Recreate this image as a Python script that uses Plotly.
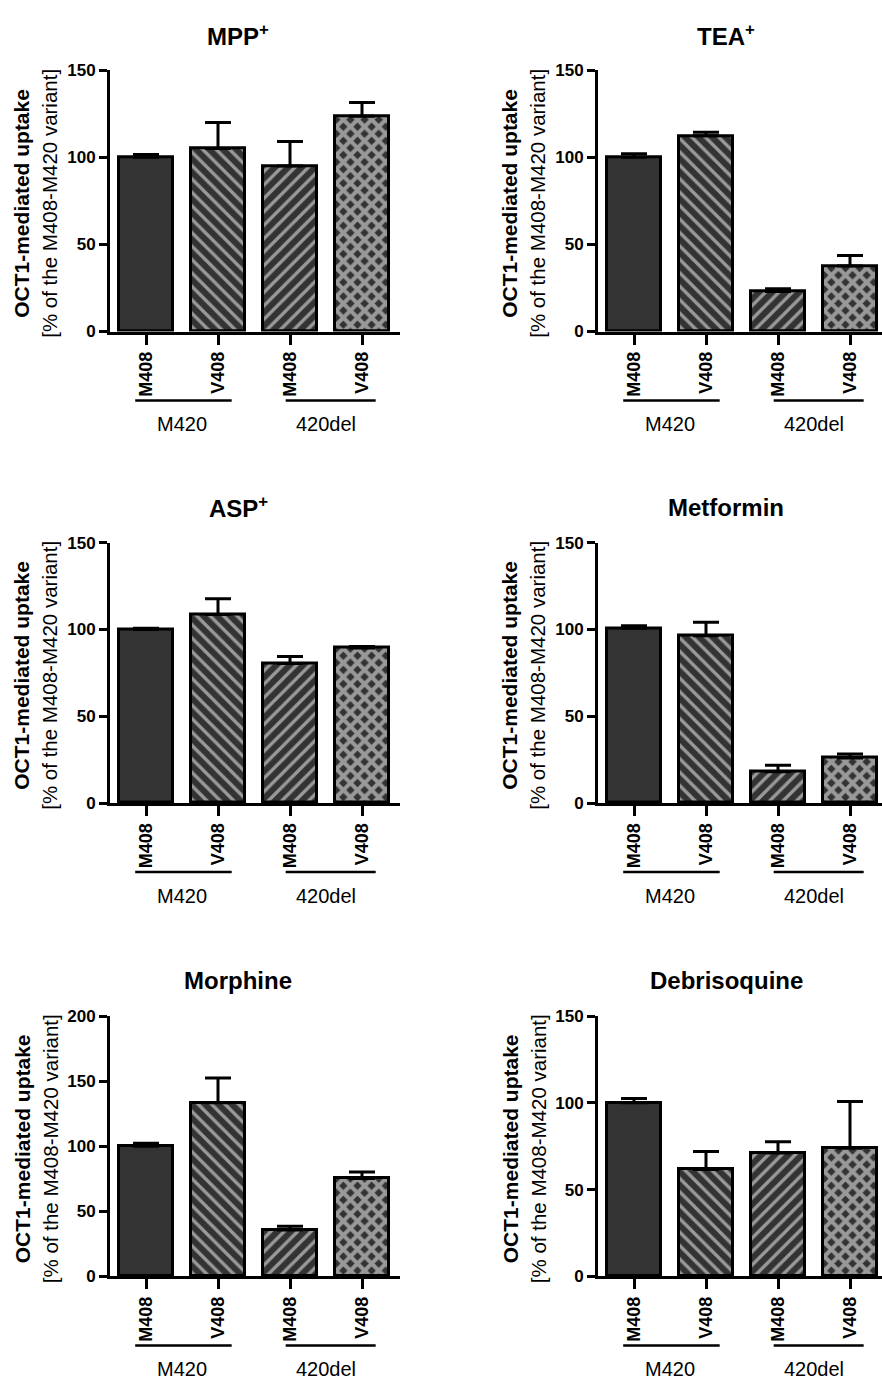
import plotly.graph_objects as go

W, H = 882, 1391

# ---------------- data ----------------
variants = ["M408", "V408", "M408", "V408"]
groups = ["M420", "420del"]
compounds = ["MPP<sup>+</sup>", "TEA<sup>+</sup>", "ASP<sup>+</sup>",
             "Metformin", "Morphine", "Debrisoquine"]

mpp_mean = [100, 105, 95, 123.5]
mpp_err = [1.6, 15, 14, 8]
tea_mean = [100, 112.3, 23, 37.6]
tea_err = [2, 2, 1.5, 6]
asp_mean = [100, 108.6, 80.4, 89.3]
asp_err = [0.6, 9, 4, 0.8]
met_mean = [100.6, 96.3, 18, 25.9]
met_err = [1.5, 7.8, 3.8, 2.3]
mor_mean = [100, 133.4, 35.6, 75.2]
mor_err = [2.3, 19, 3, 5]
deb_mean = [100, 61.6, 71.1, 73.8]
deb_err = [2.5, 10.4, 6.5, 27]

y_max = [150, 150, 150, 150, 200, 150]
y_ticks = [[0, 50, 100, 150]] * 4 + [[0, 50, 100, 150, 200]] + [[0, 50, 100, 150]]

means = [mpp_mean, tea_mean, asp_mean, met_mean, mor_mean, deb_mean]
errs = [mpp_err, tea_err, asp_err, met_err, mor_err, deb_err]

patterns = ["", "\\", "/", "x"]
pattern_size = [8, 9.5, 9.5, 10]
pattern_solidity = [0.3, 0.35, 0.35, 0.65]
# group spans (category index start, end)
group_spans = [(0, 1), (2, 3)]

# ---------------- layout geometry (pixels) ----------------
col_axis_px = [110, 598]
col_right_px = [400, 882]
row_top_px = [62, 541, 1021]
row_bot_px = [327, 805, 1285]
px_per_cat = 72.0

FONT = "Liberation Sans, Arial, sans-serif"

fig = go.Figure()
annotations = []
shapes = []

for i in range(6):
    r, c = divmod(i, 2)
    n = "" if i == 0 else str(i + 1)
    xa, ya = "x" + n, "y" + n
    x = list(range(len(variants)))
    for k in range(4):
        fig.add_trace(go.Bar(
            x=[x[k]], y=[means[i][k]], xaxis=xa, yaxis=ya,
            width=0.76,
            marker=dict(
                color="#333333",
                line=dict(color="black", width=3),
                pattern=dict(shape=patterns[k], fgcolor="white", bgcolor="#333333",
                             size=pattern_size[k], solidity=pattern_solidity[k]),
            ),
            error_y=dict(type="data", symmetric=False, array=[errs[i][k]],
                         arrayminus=[0], color="black", thickness=3, width=13),
            showlegend=False, hoverinfo="skip",
        ))

    left = col_axis_px[c]
    right = col_right_px[c]
    xr1 = -0.5 + (right - left) / px_per_cat
    dom_x = [left / W, right / W]
    dom_y = [1 - row_bot_px[r] / H, 1 - row_top_px[r] / H]

    fig.layout["xaxis" + n] = dict(
        domain=dom_x, range=[-0.5, xr1], anchor=ya,
        showline=True, linecolor="black", linewidth=3,
        ticks="outside", ticklen=10, tickwidth=3, tickcolor="black",
        tickvals=x, ticktext=variants, tickangle=-90,
        tickfont=dict(family=FONT, size=18, color="black", weight="bold"),
        showgrid=False, zeroline=False, fixedrange=True,
    )
    fig.layout["yaxis" + n] = dict(
        domain=dom_y, range=[0, y_max[i]], anchor=xa,
        showline=True, linecolor="black", linewidth=3,
        ticks="outside", ticklen=8, tickwidth=3, tickcolor="black",
        tickvals=y_ticks[i],
        tickfont=dict(family=FONT, size=17, color="black", weight="bold"),
        showgrid=False, zeroline=False, fixedrange=True,
    )

    top, bot = row_top_px[r], row_bot_px[r]
    mid = (top + bot) / 2 + 3
    # title
    annotations.append(dict(
        text="<b>%s</b>" % compounds[i], xref="paper", yref="paper",
        x=(left + 128) / W, y=1 - (top - 36) / H, xanchor="center", yanchor="middle",
        showarrow=False, font=dict(family=FONT, size=24, color="black"),
    ))
    # y-axis titles
    annotations.append(dict(
        text="<b>OCT1-mediated uptake</b>", xref="paper", yref="paper",
        x=(left - 88) / W, y=1 - mid / H, xanchor="center", yanchor="middle",
        textangle=-90, showarrow=False, font=dict(family=FONT, size=21, color="black"),
    ))
    annotations.append(dict(
        text="[% of the M408-M420 variant]", xref="paper", yref="paper",
        x=(left - 60) / W, y=1 - mid / H, xanchor="center", yanchor="middle",
        textangle=-90, showarrow=False, font=dict(family=FONT, size=20.5, color="black"),
    ))
    # group lines and labels
    h = bot - top
    for g, (s, e) in enumerate(group_spans):
        shapes.append(dict(
            type="line", xref=xa, yref=ya + " domain",
            x0=s - (0.15 if g == 0 else 0.06), x1=e + 0.19,
            y0=-70 / h, y1=-70 / h,
            line=dict(color="black", width=2.5),
        ))
        annotations.append(dict(
            text=groups[g], xref=xa, yref="paper",
            x=(s + e) / 2, y=1 - (bot + 94) / H, xanchor="center", yanchor="middle",
            showarrow=False, font=dict(family=FONT, size=20, color="black"),
        ))

fig.update_layout(
    width=W, height=H, margin=dict(l=0, r=0, t=0, b=0),
    paper_bgcolor="white", plot_bgcolor="white",
    barmode="overlay", bargap=0,
    annotations=annotations, shapes=shapes,
    font=dict(family=FONT, color="black"),
)

fig.write_html("out.html", config={"displayModeBar": False},
               post_script="document.body.style.margin='0px';")
